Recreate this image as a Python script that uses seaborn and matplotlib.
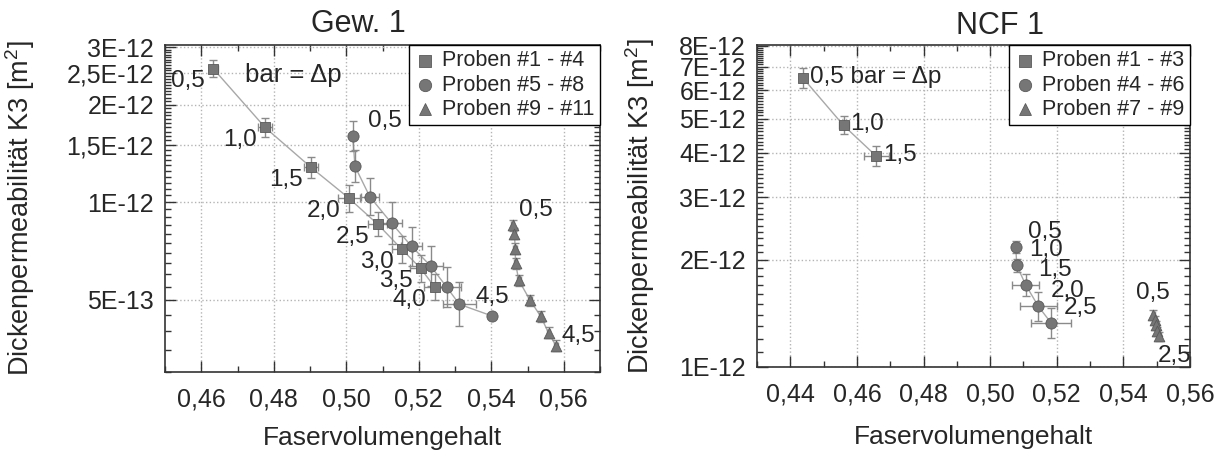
import numpy as np
import pandas as pd
import matplotlib
matplotlib.use("Agg")
import matplotlib.pyplot as plt
from matplotlib.ticker import FixedLocator, FixedFormatter, NullFormatter
import seaborn as sns

# ---------------- data ----------------
pressure = ["0,5", "1,0", "1,5", "2,0", "2,5", "3,0", "3,5", "4,0", "4,5"]

# Left panel: Gew. 1
gew_sq_x = [0.4633, 0.4776, 0.4903, 0.5007, 0.5087, 0.5153, 0.5205, 0.5244]
gew_sq_y = [2.58e-12, 1.70e-12, 1.28e-12, 1.03e-12, 8.55e-13, 7.17e-13, 6.26e-13, 5.48e-13]
gew_sq_xerr = [0.0012, 0.002, 0.002, 0.003, 0.0026, 0.0028, 0.0028, 0.003]
gew_sq_yrel = [0.06, 0.07, 0.08, 0.10, 0.09, 0.10, 0.10, 0.10]

gew_ci_x = [0.5018, 0.5024, 0.5065, 0.5125, 0.5180, 0.5233, 0.5277, 0.5312, 0.5403]
gew_ci_y = [1.60e-12, 1.29e-12, 1.04e-12, 8.62e-13, 7.32e-13, 6.36e-13, 5.48e-13, 4.85e-13, 4.46e-13]
gew_ci_xerr = [0.0005, 0.0005, 0.0025, 0.003, 0.003, 0.0035, 0.004, 0.0046, 0.0]
gew_ci_yrel = [0.11, 0.12, 0.14, 0.16, 0.15, 0.15, 0.15, 0.17, 0.0]

gew_tr_x = [0.5459, 0.5464, 0.5466, 0.5467, 0.5476, 0.5507, 0.5536, 0.5558, 0.5579]
gew_tr_y = [8.50e-13, 8.01e-13, 7.20e-13, 6.48e-13, 5.75e-13, 4.99e-13, 4.46e-13, 3.96e-13, 3.61e-13]
gew_tr_xerr = [0.0005] * 9
gew_tr_yrel = [0.04] * 9

# Right panel: NCF 1
ncf_sq_x = [0.4438, 0.4560, 0.4658]
ncf_sq_y = [6.50e-12, 4.78e-12, 3.92e-12]
ncf_sq_xerr = [0.0006, 0.0015, 0.0037]
ncf_sq_yrel = [0.07, 0.06, 0.066]

ncf_ci_x = [0.5077, 0.5080, 0.5107, 0.5145, 0.5183]
ncf_ci_y = [2.17e-12, 1.93e-12, 1.70e-12, 1.48e-12, 1.33e-12]
ncf_ci_xerr = [0.0006, 0.0008, 0.004, 0.0055, 0.006]
ncf_ci_yrel = [0.04, 0.04, 0.075, 0.10, 0.10]

ncf_tr_x = [0.5490, 0.5495, 0.5498, 0.5502, 0.5508]
ncf_tr_y = [1.40e-12, 1.354e-12, 1.31e-12, 1.26e-12, 1.22e-12]
ncf_tr_xerr = [0.0004] * 5
ncf_tr_yrel = [0.03] * 5

gew_legend = ["Proben #1 - #4", "Proben #5 - #8", "Proben #9 - #11"]
ncf_legend = ["Proben #1 - #3", "Proben #4 - #6", "Proben #7 - #9"]

gew_xticks = [0.46, 0.48, 0.50, 0.52, 0.54, 0.56]
gew_xticklabels = ["0,46", "0,48", "0,50", "0,52", "0,54", "0,56"]
ncf_xticks = [0.44, 0.46, 0.48, 0.50, 0.52, 0.54, 0.56]
ncf_xticklabels = ["0,44", "0,46", "0,48", "0,50", "0,52", "0,54", "0,56"]

gew_yticks = [5e-13, 1e-12, 1.5e-12, 2e-12, 2.5e-12, 3e-12]
gew_yticklabels = ["5E-13", "1E-12", "1,5E-12", "2E-12", "2,5E-12", "3E-12"]
ncf_yticks = [1e-12, 2e-12, 3e-12, 4e-12, 5e-12, 6e-12, 7e-12, 8e-12]
ncf_yticklabels = ["1E-12", "2E-12", "3E-12", "4E-12", "5E-12", "6E-12", "7E-12", "8E-12"]

# ---------------- style ----------------
sns.set_theme(style="ticks")
plt.rcParams["font.family"] = ["Liberation Sans", "DejaVu Sans"]
plt.rcParams["mathtext.default"] = "regular"

W, H = 1224, 459
fig = plt.figure(figsize=(W / 100, H / 100), dpi=100)

MARK_FC = "#767676"
MARK_EC = "#5a5a5a"
LINE_C = "#a8a8a8"
ERR_C = "#8a8a8a"


def ax_rect(l, t, r, b):
    return [l / W, 1 - b / H, (r - l) / W, (b - t) / H]


ax1 = fig.add_axes(ax_rect(165, 45, 600, 372))
ax2 = fig.add_axes(ax_rect(757, 45, 1190, 367))


def draw_series(ax, xs, ys, xerr, yrel, marker, label, size):
    df = pd.DataFrame({"x": xs, "y": ys})
    ylo = [y * (1 - 1 / (1 + r)) for y, r in zip(ys, yrel)]
    yhi = [y * r for y, r in zip(ys, yrel)]
    ax.plot(df["x"], df["y"], color=LINE_C, lw=1.0, zorder=2)
    ax.errorbar(df["x"], df["y"], xerr=xerr, yerr=[ylo, yhi], fmt="none",
                ecolor=ERR_C, elinewidth=1.0, capsize=3, capthick=1.0, zorder=3)
    sns.scatterplot(data=df, x="x", y="y", marker=marker, s=size, color=MARK_FC,
                    edgecolor=MARK_EC, linewidth=0.6, ax=ax, label=label, zorder=4)


def style_axes(ax, xlim, ylim, xticks, xlabels, yticks, ylabels, yminor, xlab_y):
    ax.set_yscale("log")
    ax.set_xlim(*xlim)
    ax.set_ylim(*ylim)
    ax.xaxis.set_major_locator(FixedLocator(xticks))
    ax.xaxis.set_major_formatter(FixedFormatter(xlabels))
    ax.xaxis.set_minor_locator(FixedLocator(np.arange(xlim[0], xlim[1] + 1e-9, 0.01)))
    ax.yaxis.set_major_locator(FixedLocator(yticks))
    ax.yaxis.set_major_formatter(FixedFormatter(ylabels))
    ax.yaxis.set_minor_locator(FixedLocator(yminor))
    ax.yaxis.set_minor_formatter(NullFormatter())
    ax.grid(True, which="major", linestyle=":", color="#b4b4b4", lw=1.0)
    ax.tick_params(which="both", direction="in", top=True, right=True,
                   color="#333333", width=1.0)
    ax.tick_params(which="major", length=8)
    ax.tick_params(which="minor", length=4)
    ax.tick_params(axis="x", which="major", pad=11, labelsize=18)
    ax.tick_params(axis="y", which="major", pad=8, labelsize=18)
    for s in ax.spines.values():
        s.set_color("#333333")
        s.set_linewidth(1.2)
    ax.set_xlabel("Faservolumengehalt", fontsize=19)
    ax.set_ylabel("Dickenpermeabilität K3 [m$^2$]", fontsize=19.5)
    ax.xaxis.set_label_coords(0.5, xlab_y)
    leg = ax.legend(loc="upper right", borderaxespad=0, frameon=True, fancybox=False,
                    fontsize=15.5, handletextpad=0.3, borderpad=0.25, labelspacing=0.15,
                    handlelength=1.0, markerscale=1.1)
    leg.get_frame().set_edgecolor("black")
    leg.get_frame().set_linewidth(1.0)
    leg.get_frame().set_alpha(1)


ANN = dict(fontsize=17.5, textcoords="offset points", zorder=6)

# ----- left panel -----
draw_series(ax1, gew_sq_x, gew_sq_y, gew_sq_xerr, gew_sq_yrel, "s", gew_legend[0], 55)
draw_series(ax1, gew_ci_x, gew_ci_y, gew_ci_xerr, gew_ci_yrel, "o", gew_legend[1], 65)
draw_series(ax1, gew_tr_x, gew_tr_y, gew_tr_xerr, gew_tr_yrel, "^", gew_legend[2], 60)
style_axes(ax1, (0.45, 0.57), (3e-13, 3.05e-12), gew_xticks, gew_xticklabels,
           gew_yticks, gew_yticklabels, np.arange(3e-13, 3.05e-12, 5e-14), -0.165)
ax1.yaxis.set_label_coords(-0.294, 0.5)

for i, (x, y) in enumerate(zip(gew_sq_x, gew_sq_y)):
    ax1.annotate(pressure[i], (x, y), xytext=(-6, -9), ha="right", va="center", **ANN)
ax1.annotate(pressure[0], (gew_ci_x[0], gew_ci_y[0]), xytext=(11, 11), ha="left", va="center", **ANN)
ax1.annotate(pressure[len(gew_ci_x) - 1], (gew_ci_x[-1], gew_ci_y[-1]), xytext=(0, 14),
             ha="center", va="center", **ANN)
ax1.annotate(pressure[0], (gew_tr_x[0], gew_tr_y[0]), xytext=(17, 11), ha="center", va="center", **ANN)
ax1.annotate(pressure[len(gew_tr_x) - 1], (gew_tr_x[-1], gew_tr_y[-1]), xytext=(4, 7),
             ha="left", va="center", **ANN)
ax1.text(0.184, 0.908, "bar = Δp", transform=ax1.transAxes, fontsize=18.5,
         ha="left", va="center", zorder=6)

# ----- right panel -----
draw_series(ax2, ncf_sq_x, ncf_sq_y, ncf_sq_xerr, ncf_sq_yrel, "s", ncf_legend[0], 55)
draw_series(ax2, ncf_ci_x, ncf_ci_y, ncf_ci_xerr, ncf_ci_yrel, "o", ncf_legend[1], 65)
draw_series(ax2, ncf_tr_x, ncf_tr_y, ncf_tr_xerr, ncf_tr_yrel, "^", ncf_legend[2], 60)
style_axes(ax2, (0.43, 0.56), (1e-12, 8.05e-12), ncf_xticks, ncf_xticklabels,
           ncf_yticks, ncf_yticklabels, np.arange(1e-12, 8.05e-12, 1e-13), -0.18)
ax2.yaxis.set_label_coords(-0.231, 0.5)

for i, (x, y) in enumerate(zip(ncf_sq_x, ncf_sq_y)):
    txt = pressure[i] + (" bar = Δp" if i == 0 else "")
    ax2.annotate(txt, (x, y), xytext=(5, 1), ha="left", va="center", **ANN)
for i, (x, y) in enumerate(zip(ncf_ci_x, ncf_ci_y)):
    ax2.annotate(pressure[i], (x, y), xytext=(9, 11), ha="left", va="center", **ANN)
ax2.annotate(pressure[0], (ncf_tr_x[0], ncf_tr_y[0]), xytext=(0, 16), ha="center", va="center", **ANN)
ax2.annotate(pressure[len(ncf_tr_x) - 1], (ncf_tr_x[-1], ncf_tr_y[-1]), xytext=(-1, -14),
             ha="left", va="center", **ANN)

# titles
fig.text(358 / W, 1 - 24 / H, "Gew. 1", fontsize=22, ha="center", va="center")
fig.text(1000 / W, 1 - 26 / H, "NCF 1", fontsize=22, ha="center", va="center")

fig.savefig("out.png", dpi=100)
